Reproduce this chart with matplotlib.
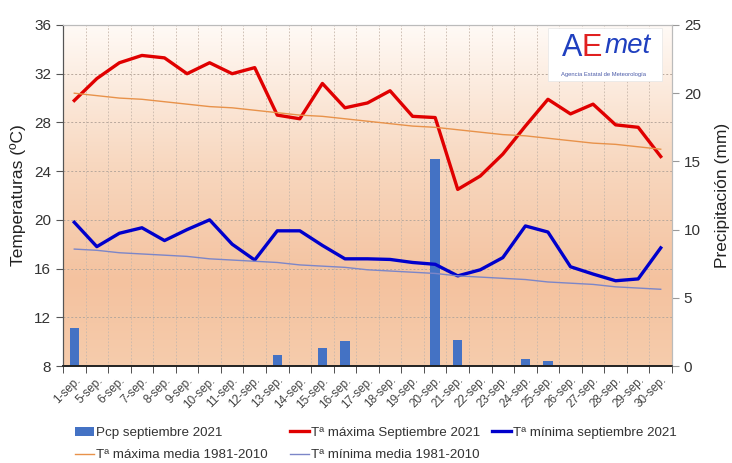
import numpy as np
import matplotlib
matplotlib.use("Agg")
import matplotlib.pyplot as plt
from matplotlib.colors import LinearSegmentedColormap
from matplotlib.transforms import blended_transform_factory
from matplotlib.patches import Rectangle

plt.rcParams['font.family'] = ['Liberation Sans', 'DejaVu Sans']

# datos
dias = ['1-sep.', '5-sep.', '6-sep.', '7-sep.', '8-sep.', '9-sep.', '10-sep.',
        '11-sep.', '12-sep.', '13-sep.', '14-sep.', '15-sep.', '16-sep.',
        '17-sep.', '18-sep.', '19-sep.', '20-sep.', '21-sep.', '22-sep.',
        '23-sep.', '24-sep.', '25-sep.', '26-sep.', '27-sep.', '28-sep.',
        '29-sep.', '30-sep.']
pcp = [2.8, 0, 0, 0, 0, 0, 0, 0, 0, 0.8, 0.1, 1.3, 1.8, 0, 0, 0, 15.2,
       1.9, 0, 0, 0.5, 0.35, 0, 0, 0, 0, 0]
tmax = [29.8, 31.6, 32.9, 33.5, 33.3, 32.0, 32.9, 32.0, 32.5, 28.6, 28.3,
        31.2, 29.2, 29.6, 30.6, 28.5, 28.4, 22.5, 23.6, 25.4, 27.7, 29.9,
        28.7, 29.5, 27.8, 27.6, 25.2]
tmin = [19.8, 17.8, 18.9, 19.35, 18.3, 19.2, 20.0, 18.0, 16.7, 19.1, 19.1,
        17.9, 16.8, 16.8, 16.75, 16.5, 16.35, 15.4, 15.9, 16.9, 19.5, 19.0,
        16.15, 15.55, 15.0, 15.15, 17.7]
tmax_media = [30.4, 30.2, 30.0, 29.9, 29.7, 29.5, 29.3, 29.2, 29.0, 28.8,
              28.6, 28.5, 28.3, 28.1, 27.9, 27.7, 27.6, 27.4, 27.2, 27.0,
              26.9, 26.7, 26.5, 26.3, 26.2, 26.0, 25.8]
tmin_media = [17.6, 17.5, 17.3, 17.2, 17.1, 17.0, 16.8, 16.7, 16.6, 16.5,
              16.3, 16.2, 16.1, 15.9, 15.8, 15.7, 15.6, 15.4, 15.3, 15.2,
              15.1, 14.9, 14.8, 14.7, 14.5, 14.4, 14.3]
temp_ticks = [8, 12, 16, 20, 24, 28, 32, 36]
pcp_ticks = [0, 5, 10, 15, 20, 25]

x = np.arange(len(dias))

fig = plt.figure(figsize=(7.32, 4.63), dpi=100)
ax = fig.add_axes([63/732, 1-366/463, 609/732, 341/463])
ax2 = ax.twinx()
ax.set_zorder(ax2.get_zorder() + 1)
ax.patch.set_visible(False)

# fondo degradado
cmap = LinearSegmentedColormap.from_list(
    'fondo', [(0.0, '#f6ccac'), (0.25, '#f4c29f'), (0.6, '#f8d8c0'),
              (1.0, '#fffaf6')])
grad = np.linspace(0, 1, 256).reshape(-1, 1)
ax2.imshow(grad, aspect='auto', cmap=cmap, origin='lower',
           extent=[0, 1, 0, 1], transform=ax2.transAxes, zorder=0)

# rejilla
tr = blended_transform_factory(ax2.transAxes, ax.transData)
for t in temp_ticks[1:-1]:
    ax2.plot([0, 1], [t, t], transform=tr, color='#b8a89c', lw=0.7,
             ls=(0, (2, 2)), zorder=1)
for b in np.arange(0.5, len(dias) - 1, 1):
    ax2.axvline(b, color='#c8b8ac', lw=0.6, ls=(0, (2, 2)), zorder=1)

ax2.bar(x, pcp, width=0.42, color='#4472c4', zorder=2,
        label='Pcp septiembre 2021')
ax2.set_ylim(0, 25)
ax2.set_yticks(pcp_ticks)

l1, = ax.plot(x, tmax, color='#e00000', lw=2.4, label='Tª máxima Septiembre 2021')
l2, = ax.plot(x, tmin, color='#0000cc', lw=2.4, label='Tª mínima septiembre 2021')
l3, = ax.plot(x, tmax_media, color='#e8924a', lw=1.0, label='Tª máxima media 1981-2010')
l4, = ax.plot(x, tmin_media, color='#7c86c8', lw=1.0, label='Tª mínima media 1981-2010')
ax.set_ylim(8, 36)
ax.set_yticks(temp_ticks)
ax.set_xlim(-0.5, len(dias) - 0.5)

ax.set_xticks(x)
ax.set_xticklabels(dias, rotation=45, ha='right', rotation_mode='anchor',
                   fontsize=8.5, color='#444444')
ax.tick_params(axis='x', length=0, pad=6)
ax.set_xticks(np.arange(-0.5, len(dias), 1), minor=True)
ax.tick_params(axis='x', which='minor', length=5, color='#333333')
ax.tick_params(axis='y', labelsize=11, length=5, color='#555555', labelcolor='#333333')
ax2.tick_params(axis='y', labelsize=11, length=5, color='#999999', labelcolor='#333333')

for a in (ax, ax2):
    a.spines['top'].set_color('#bbbbbb')
    a.spines['right'].set_color('#bbbbbb')
    a.spines['left'].set_color('#555555')
    a.spines['bottom'].set_color('#222222')
    a.spines['bottom'].set_linewidth(1.2)

ax.set_ylabel('Temperaturas (ºC)', fontsize=12.5, color='#222222', labelpad=6)
ax2.set_ylabel('Precipitación (mm)', fontsize=12.5, color='#222222', labelpad=10)

# logo
ax.add_patch(Rectangle((0.797, 0.835), 0.186, 0.155, transform=ax.transAxes,
                       facecolor='white', edgecolor='#e6e6e6', lw=0.5, zorder=5))
ax.text(0.836, 0.933, 'A', transform=ax.transAxes, fontsize=22, color='#1f3fbf',
        ha='center', va='center', zorder=6)
ax.text(0.868, 0.933, 'E', transform=ax.transAxes, fontsize=22, color='#e02020',
        ha='center', va='center', zorder=6)
ax.text(0.928, 0.937, 'met', transform=ax.transAxes, fontsize=20, color='#1f3fbf',
        style='italic', ha='center', va='center', zorder=6)
ax.text(0.888, 0.856, 'Agencia Estatal de Meteorología', transform=ax.transAxes,
        fontsize=4.2, color='#4a5aa8', ha='center', va='center', zorder=6)

# leyenda: cada entrada colocada como en el original
bars = ax2.containers[0]
entradas = [(bars, 75, 433), (l1, 290, 433), (l2, 492, 433),
            (l3, 75, 455), (l4, 290, 455)]
for h, px, py in entradas:
    fig.legend([h], [h.get_label()], loc='center left',
               bbox_to_anchor=(px/732, 1-py/463), frameon=False,
               fontsize=9.6, handlelength=1.4, handletextpad=0.2,
               borderpad=0, borderaxespad=0, labelcolor='#333333')

fig.savefig('out.png', dpi=100, facecolor='white')
